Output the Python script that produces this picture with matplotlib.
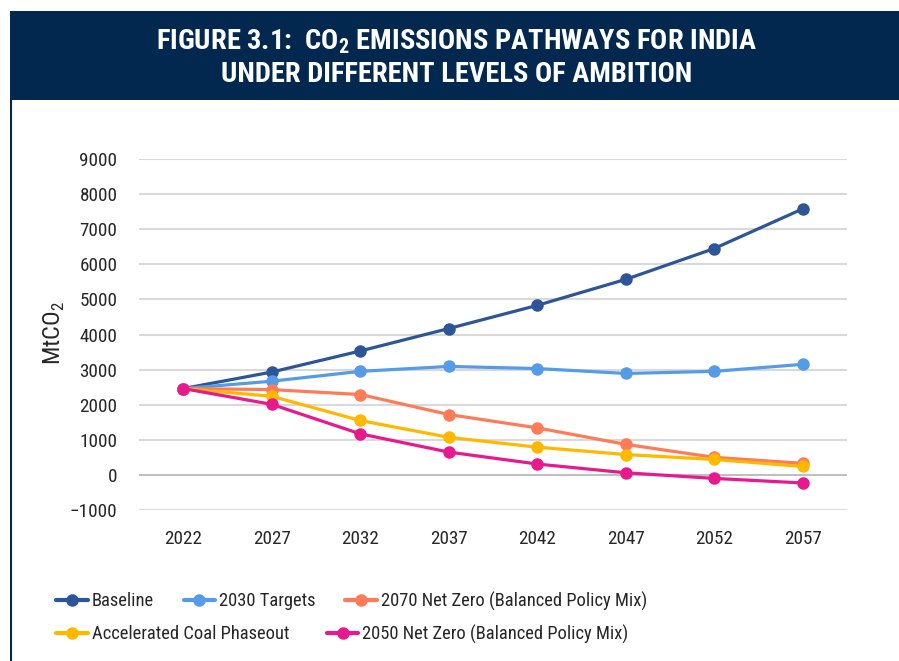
import matplotlib
matplotlib.use("Agg")
import matplotlib.pyplot as plt
from matplotlib.lines import Line2D
from matplotlib.patches import Rectangle

years = ["2022", "2027", "2032", "2037", "2042", "2047", "2052", "2057"]
baseline = [2460, 2930, 3530, 4170, 4830, 5570, 6450, 7580]
targets_2030 = [2460, 2670, 2950, 3090, 3030, 2890, 2950, 3150]
nz2070 = [2460, 2430, 2290, 1720, 1340, 870, 500, 330]
coal = [2460, 2240, 1550, 1070, 790, 580, 440, 240]
nz2050 = [2460, 2010, 1170, 650, 310, 60, -100, -230]

series_names = ["Baseline", "2030 Targets", "2070 Net Zero (Balanced Policy Mix)",
                "Accelerated Coal Phaseout", "2050 Net Zero (Balanced Policy Mix)"]
series_vals = [baseline, targets_2030, nz2070, coal, nz2050]
colors = ["#2E5597", "#559BE8", "#FF7B57", "#FFB800", "#E8198E"]
yticks = [-1000, 0, 1000, 2000, 3000, 4000, 5000, 6000, 7000, 8000, 9000]

title_lines = ["FIGURE 3.1:  CO$_\\mathbf{2}$ EMISSIONS PATHWAYS FOR INDIA",
               "UNDER DIFFERENT LEVELS OF AMBITION"]

FONT = ["Roboto Condensed", "DejaVu Sans"]
plt.rcParams["font.family"] = FONT
plt.rcParams["mathtext.fontset"] = "custom"
plt.rcParams["mathtext.rm"] = "Roboto Condensed"
plt.rcParams["mathtext.bf"] = "Roboto Condensed:bold"

W, H = 899, 661
fig = plt.figure(figsize=(W / 100, H / 100), dpi=100)
fig.patch.set_facecolor("white")

# header band
navy = "#03284F"
fig.patches.append(Rectangle((10 / W, 1 - 100 / H), 1 - 10 / W, 89 / H,
                             transform=fig.transFigure, facecolor=navy,
                             edgecolor="none", zorder=0))
fig.add_artist(Line2D([10.5 / W, 10.5 / W], [0, 1 - 100 / H], transform=fig.transFigure,
                      color=navy, lw=1.5))
fig.text(457 / W, 1 - 42 / H, title_lines[0], color="white", fontsize=20.5,
         fontweight="bold", ha="center", va="center")
fig.text(457 / W, 1 - 74 / H, title_lines[1], color="white", fontsize=20.5,
         fontweight="bold", ha="center", va="center")

ax = fig.add_axes([139 / W, 1 - 510 / H, (847 - 139) / W, (510 - 159) / H])
x = list(range(len(years)))
handles = []
for name, vals, c in zip(series_names, series_vals, colors):
    h, = ax.plot(x, vals, color=c, lw=2.3, marker="o", markersize=9,
                 markeredgewidth=0, label=name, zorder=3, solid_capstyle="round")
    handles.append(h)

ax.set_xlim(-0.5, len(years) - 0.5)
ax.set_ylim(-1000, 9000)
ax.set_yticks(yticks)
ax.set_yticklabels([("\u2212" + str(-v)) if v < 0 else str(v) for v in yticks])
ax.set_xticks(x)
ax.set_xticklabels(years)
for v in yticks:
    ax.axhline(v, color="#BFBFBF" if v == 0 else "#D9D9D9", lw=1.5, zorder=1)
for s in ax.spines.values():
    s.set_visible(False)
ax.tick_params(length=0, labelsize=13.8, colors="#262626")
ax.tick_params(axis="y", pad=15.5)
ax.tick_params(axis="x", pad=14.5)
ax.set_ylabel("MtCO$_2$", fontsize=17.5, color="#262626")
ax.yaxis.set_label_coords(-0.102, 0.505)

common = dict(frameon=False, fontsize=13.3, handlelength=1.7, handletextpad=0.22,
              borderaxespad=0, borderpad=0, loc="center left")
fig.legend(handles[:3], series_names[:3], ncol=3, columnspacing=1.6,
           bbox_to_anchor=(56.5 / W, 1 - 601 / H), **common)
fig.legend(handles[3:], series_names[3:], ncol=2, columnspacing=2.03,
           bbox_to_anchor=(56.5 / W, 1 - 634 / H), **common)
for leg in fig.legends:
    for t in leg.get_texts():
        t.set_color("#262626")
    for lh in leg.legend_handles:
        lh.set_linewidth(3.0)

fig.savefig("out.png", dpi=100, facecolor="white")
